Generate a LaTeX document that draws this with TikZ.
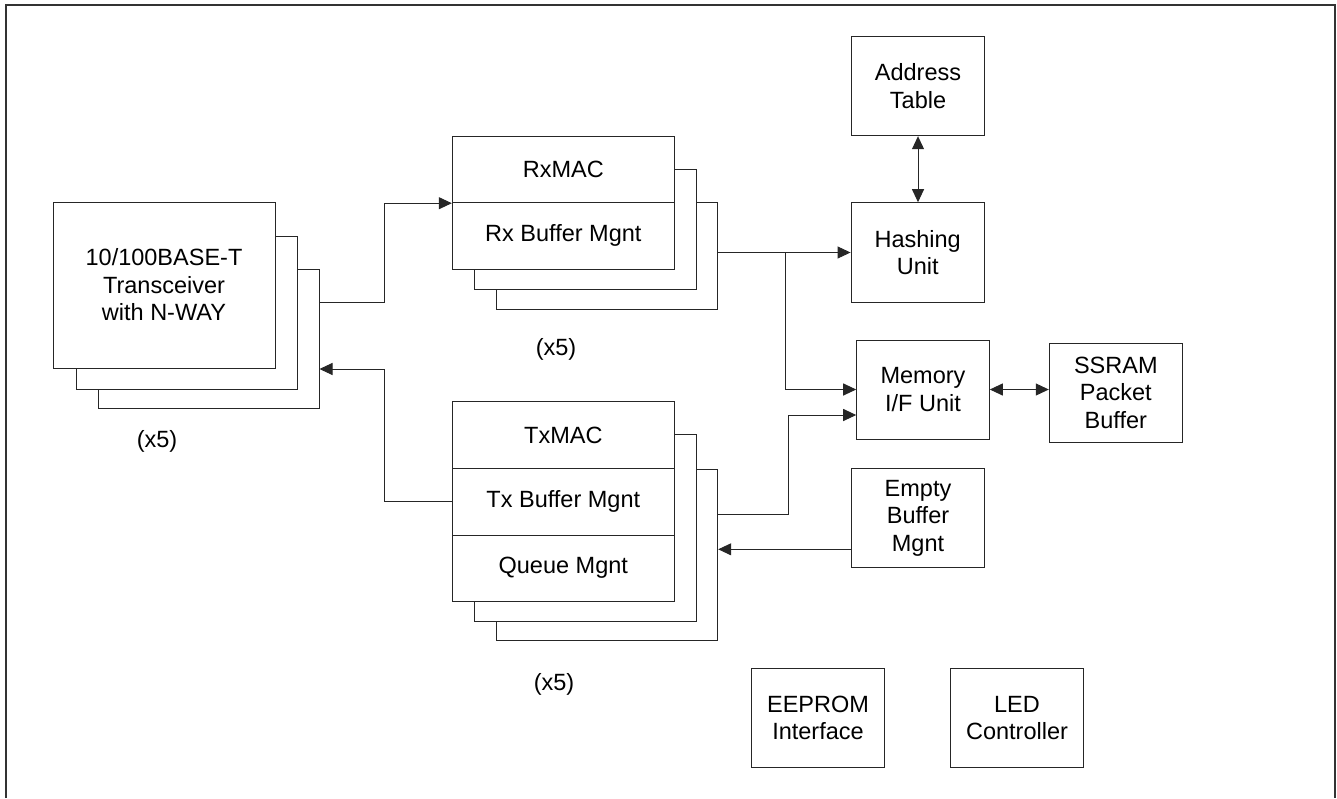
\documentclass[tikz,border=0pt]{standalone}
\usepackage{fontspec}
\setmainfont{Liberation Sans}
\usetikzlibrary{arrows.meta}
\begin{document}
\begin{tikzpicture}[x=1pt,y=-1pt,
  card/.style={draw=black!85, line width=1pt, fill=white, rectangle, inner sep=0pt,
    font=\fontsize{23.5}{27.5}\selectfont, align=center},
  conn/.style={draw=black!85, line width=1pt},
  arr/.style={conn, -{Triangle[length=13pt,width=12pt]}},
  arrb/.style={conn, {Triangle[length=13pt,width=12pt]}-{Triangle[length=13pt,width=12pt]}},
  lbl/.style={font=\fontsize{23.5}{27.5}\selectfont, inner sep=0pt}]
\useasboundingbox (0,0) rectangle (1337,798);
% open outer frame
\draw[line width=2pt, black!80] (6,798) -- (6,5) -- (1335,5) -- (1335,798);

% transceiver stack
\node[card, minimum width=221pt, minimum height=139pt] (trxC) at (208.5,338.5) {};
\node[card, minimum width=221pt, minimum height=153pt] (trxB) at (186.5,312.5) {};
\node[card, minimum width=222pt, minimum height=166pt] (trx) at (164,285)
  {10/100BASE-T\\Transceiver\\with N-WAY};
\node[lbl] (trxN) at (157,441) {(x5)};

% receive stack
\node[card, minimum width=221pt, minimum height=106.3pt] (rxC) at (607.2,255.85) {};
\node[card, minimum width=221.7pt, minimum height=120pt] (rxB) at (585.2,229.3) {};
\node[card, minimum width=222pt, minimum height=66.7pt] (rxmac) at (563.3,169.35) {RxMAC};
\node[card, minimum width=222pt, minimum height=66.3pt] (rxbuf) at (563.3,235.85) {Rx Buffer Mgnt};
\node[lbl] (rxN) at (556,349) {(x5)};

% transmit stack
\node[card, minimum width=221pt, minimum height=171.7pt] (txC) at (607.2,554.85) {};
\node[card, minimum width=221.7pt, minimum height=186.7pt] (txB) at (585.2,527.65) {};
\node[card, minimum width=222pt, minimum height=66.6pt] (txmac) at (563.3,435) {TxMAC};
\node[card, minimum width=222pt, minimum height=66.7pt] (txbuf) at (563.3,501.65) {Tx Buffer Mgnt};
\node[card, minimum width=222pt, minimum height=66pt] (queue) at (563.3,568) {Queue Mgnt};
\node[lbl] (txN) at (554,684) {(x5)};

% shared blocks
\node[card, minimum width=132.6pt, minimum height=99.7pt] (addr) at (918,85.85) {Address\\Table};
\node[card, minimum width=133.3pt, minimum height=99.6pt] (hash) at (917.7,252.5) {Hashing\\Unit};
\node[card, minimum width=132.6pt, minimum height=99pt] (mem) at (923,389.5) {Memory\\I/F Unit};
\node[card, minimum width=133pt, minimum height=99pt] (ssram) at (1115.8,392.8) {SSRAM\\Packet\\Buffer};
\node[card, minimum width=132.6pt, minimum height=99.4pt] (empty) at (918,518) {Empty\\Buffer\\Mgnt};
\node[card, minimum width=132.6pt, minimum height=99pt] (eeprom) at (818,717.8) {EEPROM\\Interface};
\node[card, minimum width=132.6pt, minimum height=99pt] (led) at (1017,717.8) {LED\\Controller};

% routing points
\coordinate (j1) at (384,302);
\coordinate (j2) at (384,369);
\coordinate (j3) at (785,252.5);
\coordinate (j4) at (788.3,514);
\coordinate (j5) at (788.3,415);
\coordinate (j6) at (800,549.3);

% connectors
\draw[arr] (trxC.east |- j1) -- (j1) |- (rxmac.south west);
\draw[arr] (txbuf.west) -| (j2) -- (trxC.east |- j2);
\draw[arr] (rxC.east |- hash.west) -- (hash.west);
\draw[arr] (j3) |- (mem.west);
\draw[arr] (txC.east |- j4) -- (j4) -- (j5) -- (mem.west |- j5);
\draw[arr] (empty.west |- j6) -- (txC.east |- j6);
\draw[arrb] (addr.south) -- (addr.south |- hash.north);
\draw[arrb] (mem.east) -- (ssram.west |- mem.east);
\end{tikzpicture}
\end{document}
